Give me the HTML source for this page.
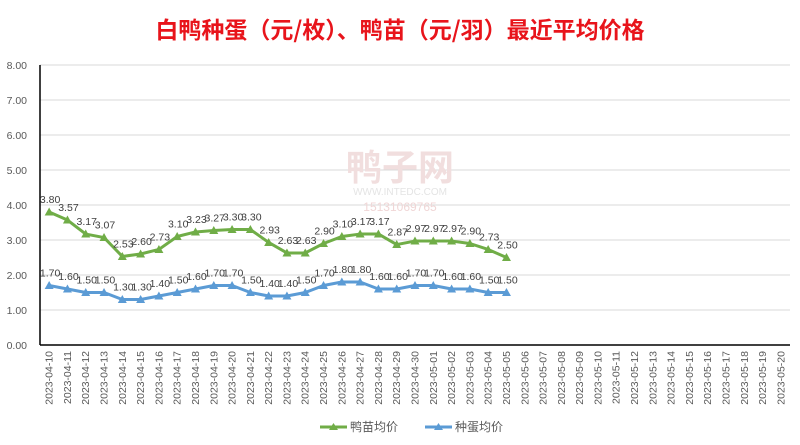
<!DOCTYPE html>
<html><head><meta charset="utf-8">
<style>
body{margin:0;background:#fff;}
svg{display:block;font-family:"Liberation Sans","Noto Sans CJK SC",sans-serif;}
</style></head>
<body>
<svg id="c" width="800" height="445" viewBox="0 0 800 445" xmlns="http://www.w3.org/2000/svg">
<rect width="800" height="445" fill="#fff"/>
<text x="400" y="38" text-anchor="middle" font-size="23" font-weight="bold" fill="#e8141b" font-family="'Noto Sans CJK SC',sans-serif">白鸭种蛋（元/枚）、鸭苗（元/羽）最近平均价格</text>
<g id="grid"></g>
<text x="400" y="180" text-anchor="middle" font-size="36" font-weight="bold" fill="#f1dede" font-family="'Noto Sans CJK SC',sans-serif">鸭子网</text>
<text x="400" y="195" text-anchor="middle" font-size="10" fill="#e4e4e4">WWW.INTEDC.COM</text>
<text x="400" y="211" text-anchor="middle" font-size="12" fill="#f0d6d6">15131069765</text>
<g id="series"></g>
<line x1="320" y1="427" x2="347" y2="427" stroke="#70ad47" stroke-width="3"/>
<polygon points="333.5,423 329,430 338,430" fill="#70ad47"/>
<text x="350" y="431" font-size="12" fill="#595959" font-family="'Noto Sans CJK SC',sans-serif">鸭苗均价</text>
<line x1="425" y1="427" x2="452" y2="427" stroke="#5b9bd5" stroke-width="3"/>
<polygon points="438.5,423 434,430 443,430" fill="#5b9bd5"/>
<text x="455" y="431" font-size="12" fill="#595959" font-family="'Noto Sans CJK SC',sans-serif">种蛋均价</text>
</svg>
<script>
var NS="http://www.w3.org/2000/svg";
function el(p,t,a,txt){var e=document.createElementNS(NS,t);for(var k in a)e.setAttribute(k,a[k]);if(txt!=null)e.textContent=txt;p.appendChild(e);return e;}
var g=document.getElementById('grid'),s=document.getElementById('series');
var X0=40,X1=790,Y0=345,U=35,N=41,W=(X1-X0)/N;
for(var i=0;i<=8;i++){var y=Y0-i*U;
 if(i>0)el(g,'line',{x1:X0,x2:X1,y1:y,y2:y,stroke:'#d9d9d9','stroke-width':1});
 el(g,'text',{x:27,y:y+4,'text-anchor':'end','font-size':10.5,fill:'#595959'},i.toFixed(2));}
el(g,'line',{x1:X0,x2:X0,y1:65,y2:Y0,stroke:'#000','stroke-width':1.5});
el(g,'line',{x1:X0,x2:X1,y1:Y0,y2:Y0,stroke:'#000','stroke-width':1.5});
var d=new Date(Date.UTC(2023,3,10));
for(var i=0;i<N;i++){var dt=new Date(d.getTime()+i*86400000);
 var lab=dt.toISOString().slice(0,10);var x=X0+W*(i+0.5)+3.5;
 el(g,'text',{x:x,y:351,'text-anchor':'end','font-size':10.5,fill:'#595959',transform:'rotate(-90 '+x+' 351)'},lab);}
var G=[3.80,3.57,3.17,3.07,2.53,2.60,2.73,3.10,3.23,3.27,3.30,3.30,2.93,2.63,2.63,2.90,3.10,3.17,3.17,2.87,2.97,2.97,2.97,2.90,2.73,2.50];
var B=[1.70,1.60,1.50,1.50,1.30,1.30,1.40,1.50,1.60,1.70,1.70,1.50,1.40,1.40,1.50,1.70,1.80,1.80,1.60,1.60,1.70,1.70,1.60,1.60,1.50,1.50];
function draw(arr,col){var pts=arr.map(function(v,i){return [X0+W*(i+0.5),Y0-v*U];});
 el(s,'polyline',{points:pts.map(function(p){return p.join(',')}).join(' '),fill:'none',stroke:col,'stroke-width':3,'stroke-linejoin':'round'});
 pts.forEach(function(p,i){el(s,'polygon',{points:p[0]+','+(p[1]-4.5)+' '+(p[0]-4.5)+','+(p[1]+3.5)+' '+(p[0]+4.5)+','+(p[1]+3.5),fill:col});
  el(s,'text',{x:p[0]+1,y:p[1]-9,'text-anchor':'middle','font-size':10.5,fill:'#404040'},arr[i].toFixed(2));});}
draw(G,'#70ad47');draw(B,'#5b9bd5');
</script>
</body></html>
